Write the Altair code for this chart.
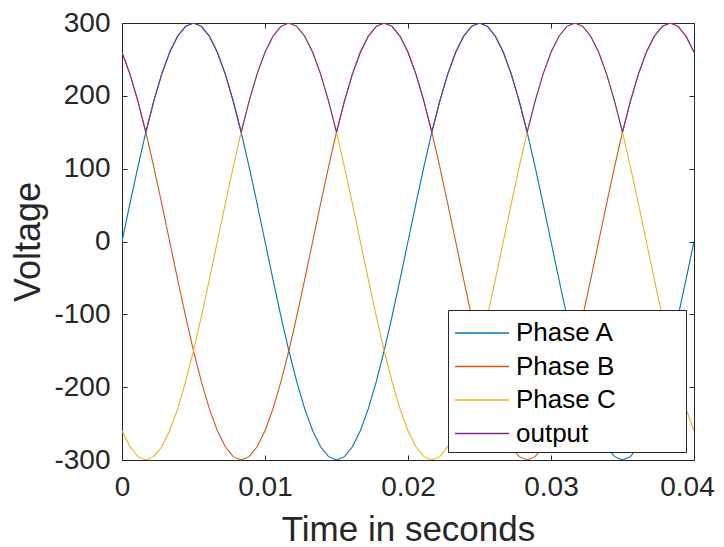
import altair as alt
import pandas as pd

# sample times: 10 degree steps of a 50 Hz wave
time = [i / 1800 for i in range(73)]

phase_a = [0, 52.1, 102.6, 150, 192.8, 229.8, 259.8, 281.9, 295.4, 300, 295.4, 281.9,
           259.8, 229.8, 192.8, 150, 102.6, 52.1, 0, -52.1, -102.6, -150, -192.8, -229.8,
           -259.8, -281.9, -295.4, -300, -295.4, -281.9, -259.8, -229.8, -192.8, -150, -102.6, -52.1,
           0, 52.1, 102.6, 150, 192.8, 229.8, 259.8, 281.9, 295.4, 300, 295.4, 281.9,
           259.8, 229.8, 192.8, 150, 102.6, 52.1, 0, -52.1, -102.6, -150, -192.8, -229.8,
           -259.8, -281.9, -295.4, -300, -295.4, -281.9, -259.8, -229.8, -192.8, -150, -102.6, -52.1,
           0]

phase_b = [259.8, 229.8, 192.8, 150, 102.6, 52.1, 0, -52.1, -102.6, -150, -192.8, -229.8,
           -259.8, -281.9, -295.4, -300, -295.4, -281.9, -259.8, -229.8, -192.8, -150, -102.6, -52.1,
           0, 52.1, 102.6, 150, 192.8, 229.8, 259.8, 281.9, 295.4, 300, 295.4, 281.9,
           259.8, 229.8, 192.8, 150, 102.6, 52.1, 0, -52.1, -102.6, -150, -192.8, -229.8,
           -259.8, -281.9, -295.4, -300, -295.4, -281.9, -259.8, -229.8, -192.8, -150, -102.6, -52.1,
           0, 52.1, 102.6, 150, 192.8, 229.8, 259.8, 281.9, 295.4, 300, 295.4, 281.9,
           259.8]

phase_c = [-259.8, -281.9, -295.4, -300, -295.4, -281.9, -259.8, -229.8, -192.8, -150, -102.6, -52.1,
           0, 52.1, 102.6, 150, 192.8, 229.8, 259.8, 281.9, 295.4, 300, 295.4, 281.9,
           259.8, 229.8, 192.8, 150, 102.6, 52.1, 0, -52.1, -102.6, -150, -192.8, -229.8,
           -259.8, -281.9, -295.4, -300, -295.4, -281.9, -259.8, -229.8, -192.8, -150, -102.6, -52.1,
           0, 52.1, 102.6, 150, 192.8, 229.8, 259.8, 281.9, 295.4, 300, 295.4, 281.9,
           259.8, 229.8, 192.8, 150, 102.6, 52.1, 0, -52.1, -102.6, -150, -192.8, -229.8,
           -259.8]

output = [259.8, 229.8, 192.8, 150, 192.8, 229.8, 259.8, 281.9, 295.4, 300, 295.4, 281.9,
          259.8, 229.8, 192.8, 150, 192.8, 229.8, 259.8, 281.9, 295.4, 300, 295.4, 281.9,
          259.8, 229.8, 192.8, 150, 192.8, 229.8, 259.8, 281.9, 295.4, 300, 295.4, 281.9,
          259.8, 229.8, 192.8, 150, 192.8, 229.8, 259.8, 281.9, 295.4, 300, 295.4, 281.9,
          259.8, 229.8, 192.8, 150, 192.8, 229.8, 259.8, 281.9, 295.4, 300, 295.4, 281.9,
          259.8, 229.8, 192.8, 150, 192.8, 229.8, 259.8, 281.9, 295.4, 300, 295.4, 281.9,
          259.8]

series_names = ["Phase A", "Phase B", "Phase C", "output"]
series_colors = ["#0072BD", "#D95319", "#EDB120", "#7E2F8E"]
x_ticks = [0, 0.01, 0.02, 0.03, 0.04]
y_ticks = [-300, -200, -100, 0, 100, 200, 300]

rows = []
for name, vals in zip(series_names, [phase_a, phase_b, phase_c, output]):
    for t, v in zip(time, vals):
        rows.append({"t": t, "v": v, "series": name})
df = pd.DataFrame(rows)

FONT = "Liberation Sans"
AX = "#262626"
x_scale = alt.Scale(domain=[0, 0.04], nice=False, zero=False)
y_scale = alt.Scale(domain=[-300, 300], nice=False, zero=False)
inside = {"expr": "-5"}
# invisible trailing room so the legend box is as wide as the reference's
PAD = "\u00a0" * 9 + "\u200b"

lines = alt.Chart(df).mark_line(strokeWidth=1.1, clip=True).encode(
    x=alt.X("t:Q", scale=x_scale,
            axis=alt.Axis(orient="bottom", values=x_ticks, labelExpr="'' + datum.value",
                          title="Time in seconds", tickSize=inside, labelPadding=18,
                          labelFlush=False, titlePadding=11, titleFontSize=35,
                          labelOffset={"condition": {"test": "datum.value >= 0.04", "value": -7},
                                       "value": 0})),
    y=alt.Y("v:Q", scale=y_scale,
            axis=alt.Axis(orient="left", values=y_ticks, labelExpr="'' + datum.value",
                          title="Voltage", tickSize=inside, labelPadding=17,
                          labelFlush=False, titlePadding=6)),
    color=alt.Color("series:N",
                    scale=alt.Scale(domain=series_names, range=series_colors),
                    legend=alt.Legend(title=None, orient="none", legendX=326, legendY=287,
                                      symbolType="M-0.94,0H2.24", symbolSize=1156,
                                      symbolStrokeWidth=1.3, labelOffset=27,
                                      labelExpr="datum.label + '" + PAD + "'",
                                      labelLimit=300,
                                      labelFontSize=26, labelFont=FONT, labelColor="#000000",
                                      rowPadding=2.5, padding=5, fillColor="#ffffff",
                                      strokeColor=AX)),
)

mirror = alt.Chart(df).mark_line(opacity=0).encode(
    x=alt.X("t:Q", scale=x_scale,
            axis=alt.Axis(orient="top", values=x_ticks, labels=False, title="",
                          tickSize=inside)),
    y=alt.Y("v:Q", scale=y_scale,
            axis=alt.Axis(orient="right", values=y_ticks, labels=False, title="",
                          tickSize=inside)),
    detail="series:N",
)

chart = (
    alt.layer(lines, mirror)
    .resolve_axis(x="independent", y="independent")
    .properties(width=572, height=437,
                autosize=alt.AutoSizeParams(type="none"),
                padding={"left": 114, "top": 15, "right": 22, "bottom": 87})
    .configure_view(stroke="transparent")
    .configure_axis(grid=False, domainColor=AX, tickColor=AX, labelColor=AX,
                    titleColor=AX, labelFont=FONT, titleFont=FONT,
                    labelFontSize=28, titleFontSize=36, titleFontWeight="normal",
                    domainWidth=1, tickWidth=1)
)

chart.save("out.html", embed_options={"renderer": "svg", "actions": False})
